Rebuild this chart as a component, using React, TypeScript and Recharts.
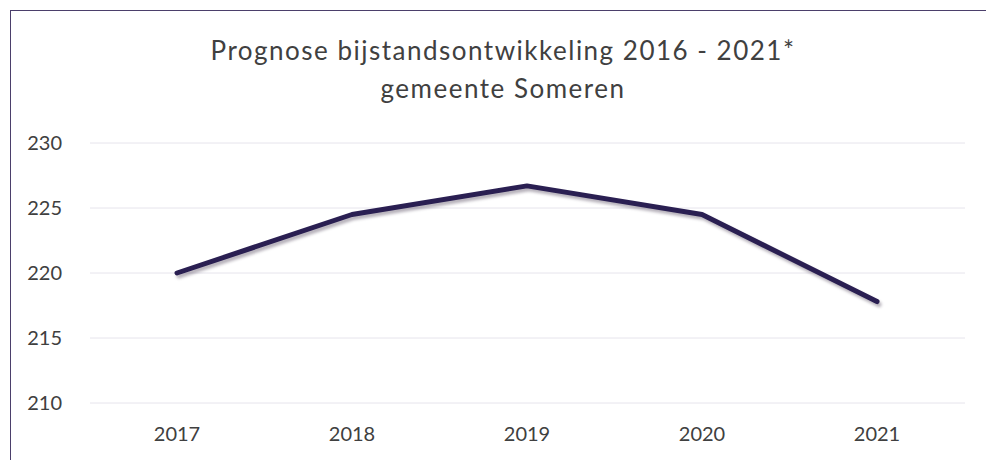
import { LineChart, Line, XAxis, YAxis, CartesianGrid } from 'recharts';

const years = ['2017', '2018', '2019', '2020', '2021'];
const bijstand = [220.0, 224.5, 226.7, 224.5, 217.8];
const yTicks = [210, 215, 220, 225, 230];

const chartData = years.map((year, i) => ({ year, value: bijstand[i] }));

const FONT = 'Lato, "Open Sans", sans-serif';

export default function App() {
  return (
    <div style={{ position: 'fixed', left: 0, top: 0, width: 986, height: 460, overflow: 'hidden', background: '#fff', fontFamily: FONT }}>
      <style>{`.bijstand-line .recharts-line-curve { filter: drop-shadow(2px 3px 1.5px rgba(90, 80, 100, 0.45)); }`}</style>
      {/* chart frame, runs off the right and bottom edge like the scan */}
      <div style={{ position: 'absolute', left: 10, top: 10, width: 1400, height: 800, borderLeft: '1.5px solid #4b3f6b', borderTop: '1.5px solid #4b3f6b', boxSizing: 'border-box' }} />

      <div style={{ position: 'absolute', left: 0, top: 31, width: 1006, textAlign: 'center', color: '#404040', fontSize: 26, letterSpacing: 1.5, lineHeight: '38px' }}>
        <div>Prognose bijstandsontwikkeling 2016 - 2021*</div>
        <div>gemeente Someren</div>
      </div>

      <div style={{ position: 'absolute', left: 0, top: 0 }}>
        <LineChart width={986} height={460} data={chartData} margin={{ top: 143, right: 21, bottom: 0, left: 0 }}>
          <CartesianGrid horizontal vertical={false} stroke="#e6e4ec" strokeWidth={1} />
          <XAxis
            dataKey="year"
            axisLine={false}
            tickLine={false}
            tickSize={0}
            tickMargin={24}
            height={57}
            padding={{ left: 87, right: 88 }}
            tick={{ fill: '#404040', fontSize: 20, fontFamily: FONT }}
          />
          <YAxis
            domain={[210, 230]}
            ticks={yTicks}
            axisLine={false}
            tickLine={false}
            tickSize={0}
            tickMargin={28}
            width={90}
            tick={{ fill: '#404040', fontSize: 20, fontFamily: FONT }}
          />
          <Line
            className="bijstand-line"
            type="linear"
            dataKey="value"
            stroke="#2a1f52"
            strokeWidth={5}
            strokeLinecap="round"
            strokeLinejoin="round"
            dot={false}
            activeDot={false}
            isAnimationActive={false}
          />
        </LineChart>
      </div>
    </div>
  );
}
